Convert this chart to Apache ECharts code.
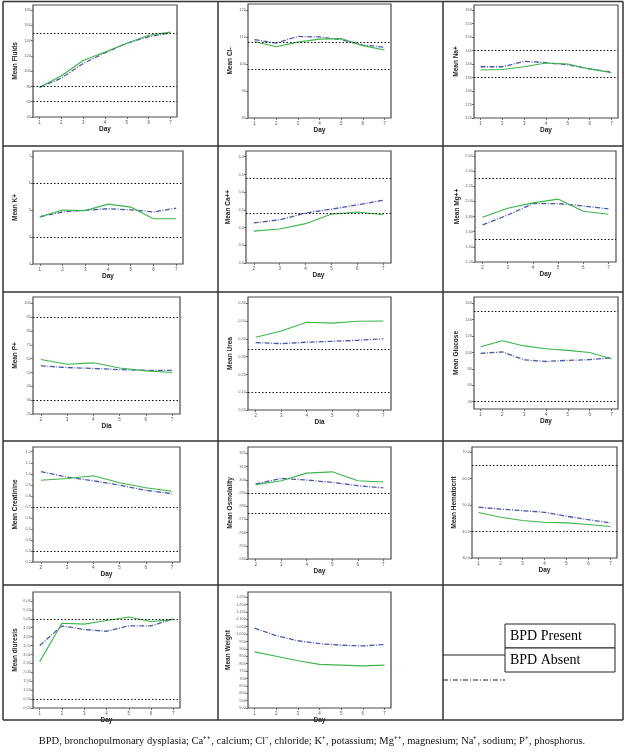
<!DOCTYPE html>
<html><head><meta charset="utf-8">
<script src="https://cdn.jsdelivr.net/npm/echarts@6/dist/echarts.min.js"></script>
<style>html,body{margin:0;padding:0;background:#fff}#c{width:625px;height:752px}</style>
</head><body><div id="c"></div>
<script>
// ---------- data ----------
const days7 = [1, 2, 3, 4, 5, 6, 7];
const days6 = [2, 3, 4, 5, 6, 7];
const seriesNames = ['BPD Present', 'BPD Absent'];

const fluidsPresent = [79, 94, 114, 125, 136.5, 147, 151];
const fluidsAbsent = [78.7, 91, 110, 124, 136.5, 145, 150];
const fluidsRef = [150, 80, 60];
const fluidsTicks = [40, 60, 80, 100, 120, 140, 160, 180];

const clPresent = [108.3, 106.4, 108.1, 109.2, 109.4, 106.8, 105.2];
const clAbsent = [109, 107.7, 110.2, 110, 109, 107, 106.2];
const clRef = [108, 98];
const clTicks = [80, 90, 100, 110, 120];

const naPresent = [137.8, 138, 139, 140.4, 140, 138.2, 136.8];
const naAbsent = [139, 139, 141, 140.5, 139.7, 138.2, 137];
const naRef = [145, 135];
const naTicks = [120, 125, 130, 135, 140, 145, 150, 155, 160];

const kPresent = [4.75, 5.0, 4.98, 5.22, 5.11, 4.68, 4.68];
const kAbsent = [4.75, 4.93, 4.99, 5.05, 5.01, 4.93, 5.07];
const kRef = [6, 4];
const kTicks = [3, 4, 5, 6, 7];

const caPresent = [3.90, 3.96, 4.11, 4.38, 4.44, 4.36];
const caAbsent = [4.13, 4.22, 4.41, 4.52, 4.64, 4.77];
const caRef = [5.4, 4.4];
const caTicks = [3.0, 3.5, 4.0, 4.5, 5.0, 5.5, 6.0];

const mgPresent = [1.79, 1.91, 1.98, 2.03, 1.87, 1.83];
const mgAbsent = [1.69, 1.82, 1.97, 1.97, 1.94, 1.90];
const mgRef = [2.3, 1.5];
const mgTicks = [1.2, 1.4, 1.6, 1.8, 2.0, 2.2, 2.4, 2.6];

const pPresent = [59.4, 56, 57, 53.3, 51.2, 50];
const pAbsent = [54.8, 53.6, 52.9, 52.1, 51.6, 51.6];
const pRef = [90, 30];
const pTicks = [20, 30, 40, 50, 60, 70, 80, 90, 100];

const ureaPresent = [0.409, 0.444, 0.493, 0.488, 0.499, 0.50];
const ureaAbsent = [0.379, 0.373, 0.381, 0.386, 0.392, 0.40];
const ureaRef = [0.34, 0.10];
const ureaTicks = [0, 0.1, 0.2, 0.3, 0.4, 0.5, 0.6];

const glucPresent = [107, 114.4, 108, 104.6, 102.6, 100, 92.4];
const glucAbsent = [99, 100.6, 91, 89, 90.4, 91.2, 93.7];
const glucRef = [150, 40];
const glucTicks = [40, 60, 80, 100, 120, 140, 160];

const creatPresent = [0.942, 0.958, 0.982, 0.918, 0.873, 0.842];
const creatAbsent = [1.02, 0.97, 0.936, 0.897, 0.85, 0.82];
const creatRef = [0.7, 0.3];
const creatTicks = [0.2, 0.3, 0.4, 0.5, 0.6, 0.7, 0.8, 0.9, 1.0, 1.1, 1.2];

const osmoPresent = [296.3, 299.3, 305, 306, 299.3, 298.3];
const osmoAbsent = [296.8, 301, 299.8, 298, 295.5, 293.8];
const osmoRef = [290, 275];
const osmoTicks = [240, 250, 260, 270, 280, 290, 300, 310, 320];

const hctPresent = [47.2, 45.4, 44.2, 43.5, 43.3, 42.7, 41.9];
const hctAbsent = [49.2, 48.5, 47.9, 47.3, 45.8, 44.5, 43.3];
const hctRef = [65, 40];
const hctTicks = [30, 40, 50, 60, 70];

const diurPresent = [2.6, 4.75, 4.7, 4.9, 5.1, 4.85, 4.95];
const diurAbsent = [3.5, 4.6, 4.4, 4.3, 4.6, 4.6, 5.0];
const diurRef = [5.0, 0.5];
const diurTicks = [0, 0.5, 1, 1.5, 2, 2.5, 3, 3.5, 4, 4.5, 5, 5.5, 6];

const weightPresent = [880, 850, 820, 795, 790, 785, 790];
const weightAbsent = [1040, 990, 955, 935, 925, 920, 930];
const weightRef = [];
const weightTicks = [500, 550, 600, 650, 700, 750, 800, 850, 900, 950, 1000, 1050, 1100, 1150, 1200, 1250];

const caption = 'BPD, bronchopulmonary dysplasia; Ca\u207A\u207A, calcium; Cl\u207B, chloride; K\u207A, potassium; Mg\u207A\u207A, magnesium; Na\u207A, sodium; P\u207A, phosphorus.';

// ---------- formatting helpers ----------
const fmtComma = d => v => v.toFixed(d).replace('.', ',');
const fmtInt = v => String(Math.round(v));
const fmtThousand = v => v >= 1000 ? Math.floor(v / 1000) + '.' + String(Math.round(v % 1000)).padStart(3, '0') : String(v);

// ---------- panels (layout separate from data) ----------
const panels = [
  {name: 'Mean Fluids', xn: 'Day', days: days7, g: fluidsPresent, b: fluidsAbsent, ref: fluidsRef, ticks: fluidsTicks, fmt: fmtInt, box: [33, 5, 177, 117], ymin: 40, ymax: 186.5},
  {name: 'Mean Cl-', xn: 'Day', days: days7, g: clPresent, b: clAbsent, ref: clRef, ticks: clTicks, fmt: fmtInt, box: [248, 4, 391, 118], ymin: 80, ymax: 122.2},
  {name: 'Mean Na+', xn: 'Day', days: days7, g: naPresent, b: naAbsent, ref: naRef, ticks: naTicks, fmt: fmtInt, box: [474, 5, 618, 118], ymin: 120, ymax: 161.9},
  {name: 'Mean K+', xn: 'Day', days: days7, g: kPresent, b: kAbsent, ref: kRef, ticks: kTicks, fmt: fmtInt, box: [33, 151, 183, 264], ymin: 3, ymax: 7.19},
  {name: 'Mean Ca++', xn: 'Day', days: days6, g: caPresent, b: caAbsent, ref: caRef, ticks: caTicks, fmt: fmtComma(1), box: [246, 151, 391, 263], ymin: 3, ymax: 6.16},
  {name: 'Mean Mg++', xn: 'Day', days: days6, g: mgPresent, b: mgAbsent, ref: mgRef, ticks: mgTicks, fmt: fmtComma(2), box: [475, 151, 616, 262], ymin: 1.2, ymax: 2.665},
  {name: 'Mean P+', xn: 'Dia', days: days6, g: pPresent, b: pAbsent, ref: pRef, ticks: pTicks, fmt: fmtInt, box: [33, 297, 180, 414], ymin: 20, ymax: 104.6},
  {name: 'Mean Urea', xn: 'Dia', days: days6, g: ureaPresent, b: ureaAbsent, ref: ureaRef, ticks: ureaTicks, fmt: fmtComma(2), box: [248, 297, 391, 410], ymin: 0, ymax: 0.635},
  {name: 'Mean Glucose', xn: 'Day', days: days7, g: glucPresent, b: glucAbsent, ref: glucRef, ticks: glucTicks, fmt: fmtInt, box: [474, 297, 618, 409], ymin: 31, ymax: 167.7},
  {name: 'Mean Creatinine', xn: 'Day', days: days6, g: creatPresent, b: creatAbsent, ref: creatRef, ticks: creatTicks, fmt: fmtComma(1), box: [33, 447, 180, 562], ymin: 0.2, ymax: 1.243},
  {name: 'Mean Osmolality', xn: 'Day', days: days6, g: osmoPresent, b: osmoAbsent, ref: osmoRef, ticks: osmoTicks, fmt: fmtInt, box: [248, 447, 391, 559], ymin: 240, ymax: 324.8},
  {name: 'Mean Hematocrit', xn: 'Day', days: days7, g: hctPresent, b: hctAbsent, ref: hctRef, ticks: hctTicks, fmt: fmtComma(1), box: [472, 447, 617, 558], ymin: 30, ymax: 72},
  {name: 'Mean diuresis', xn: 'Day', days: days7, g: diurPresent, b: diurAbsent, ref: diurRef, ticks: diurTicks, fmt: fmtComma(2), box: [33, 592, 180, 708], ymin: 0, ymax: 6.5},
  {name: 'Mean Weight', xn: 'Day', days: days7, g: weightPresent, b: weightAbsent, ref: weightRef, ticks: weightTicks, fmt: fmtThousand, box: [248, 592, 391, 708], ymin: 500, ymax: 1285}
];

const GREEN = '#3db54a', BLUE = '#4a5aa8', FRAME = '#4a4a4a';
const grid = [], xAxis = [], yAxis = [], series = [];
panels.forEach((p, i) => {
  const [x0, y0, x1, y1] = p.box;
  grid.push({left: x0, top: y0, width: x1 - x0, height: y1 - y0, show: true, borderColor: FRAME, borderWidth: 1.2, backgroundColor: 'transparent'});
  const d0 = p.days[0], d1 = p.days[p.days.length - 1];
  xAxis.push({
    type: 'value', gridIndex: i, min: d0 - 0.3, max: d1 + 0.3,
    axisLine: {show: false}, splitLine: {show: false},
    axisTick: {show: true, customValues: p.days, length: 2, lineStyle: {color: FRAME, width: 0.8}},
    axisLabel: {customValues: p.days, fontSize: 4.5, color: '#555', margin: 3, fontFamily: 'Liberation Sans'},
    name: p.xn, nameLocation: 'middle', nameGap: 9,
    nameTextStyle: {fontSize: 6.5, fontWeight: 'bold', color: '#222', fontFamily: 'Liberation Sans'}
  });
  yAxis.push({
    type: 'value', gridIndex: i, min: p.ymin, max: p.ymax,
    axisLine: {show: false}, splitLine: {show: false},
    axisTick: {show: true, customValues: p.ticks, length: 2, lineStyle: {color: FRAME, width: 0.8}},
    axisLabel: {customValues: p.ticks, fontSize: 4, color: '#666', margin: 2, formatter: v => p.fmt(v), fontFamily: 'Liberation Sans'},
    name: p.name, nameLocation: 'middle', nameGap: 14, nameRotate: 90,
    nameTextStyle: {fontSize: 6.5, fontWeight: 'bold', color: '#222', fontFamily: 'Liberation Sans'}
  });
  series.push({
    type: 'line', xAxisIndex: i, yAxisIndex: i, name: seriesNames[1], symbol: 'none', silent: true,
    data: p.days.map((d, k) => [d, p.b[k]]),
    lineStyle: {color: BLUE, width: 1.3, type: [5, 1.5, 1, 1.5]},
    markLine: {symbol: 'none', silent: true, label: {show: false},
      lineStyle: {color: '#111', width: 1, type: [1.5, 2]},
      data: p.ref.map(v => ({yAxis: v}))}
  });
  series.push({
    type: 'line', xAxisIndex: i, yAxisIndex: i, name: seriesNames[0], symbol: 'none', silent: true,
    data: p.days.map((d, k) => [d, p.g[k]]),
    lineStyle: {color: GREEN, width: 1.1}
  });
});

// table borders and legend
const L = '#333';
let gid = 0;
const hl = (x1, x2, y, w) => ({id: 'g' + (gid++), type: 'line', z: 50, shape: {x1, y1: y, x2, y2: y}, style: {stroke: L, lineWidth: w || 1.5}, silent: true});
const vl = (x, y1, y2, w) => ({id: 'g' + (gid++), type: 'line', z: 50, shape: {x1: x, y1, x2: x, y2}, style: {stroke: L, lineWidth: w || 1.5}, silent: true});
const graphic = [
  hl(3, 623, 1.5), hl(3, 623, 146), hl(3, 623, 292), hl(3, 623, 441), hl(3, 623, 585), hl(3, 623, 720),
  vl(3, 1.5, 720), vl(623, 1.5, 720), vl(218, 1.5, 720), vl(443, 1.5, 720),
  {id: 'r1', type: 'rect', z: 50, shape: {x: 505, y: 624, width: 110, height: 24}, style: {fill: '#fff', stroke: '#222', lineWidth: 1}},
  {id: 'r2', type: 'rect', z: 50, shape: {x: 505, y: 648, width: 110, height: 24}, style: {fill: '#fff', stroke: '#222', lineWidth: 1}},
  {id: 't1', type: 'text', z: 51, x: 510, y: 636, style: {text: seriesNames[0], fontSize: 14, fontFamily: 'Liberation Serif', fill: '#000', verticalAlign: 'middle'}},
  {id: 't2', type: 'text', z: 51, x: 510, y: 660, style: {text: seriesNames[1], fontSize: 14, fontFamily: 'Liberation Serif', fill: '#000', verticalAlign: 'middle'}},
  {id: 'l1', type: 'line', z: 52, shape: {x1: 443, y1: 655, x2: 505, y2: 655}, style: {stroke: '#222', lineWidth: 1.2}},
  {id: 'l2', type: 'line', z: 52, shape: {x1: 443, y1: 680, x2: 505, y2: 680}, style: {stroke: '#222', lineWidth: 1, lineDash: [5, 2, 1, 2]}},
  {id: 'cap', type: 'text', z: 51, x: 312, y: 741, style: {text: caption, fontSize: 10.5, fontFamily: 'Liberation Serif', fill: '#111', align: 'center', verticalAlign: 'middle'}}
];

const chart = echarts.init(document.getElementById('c'), null, {renderer: 'canvas'});
chart.setOption({animation: false, grid, xAxis, yAxis, series, graphic});
</script></body></html>
